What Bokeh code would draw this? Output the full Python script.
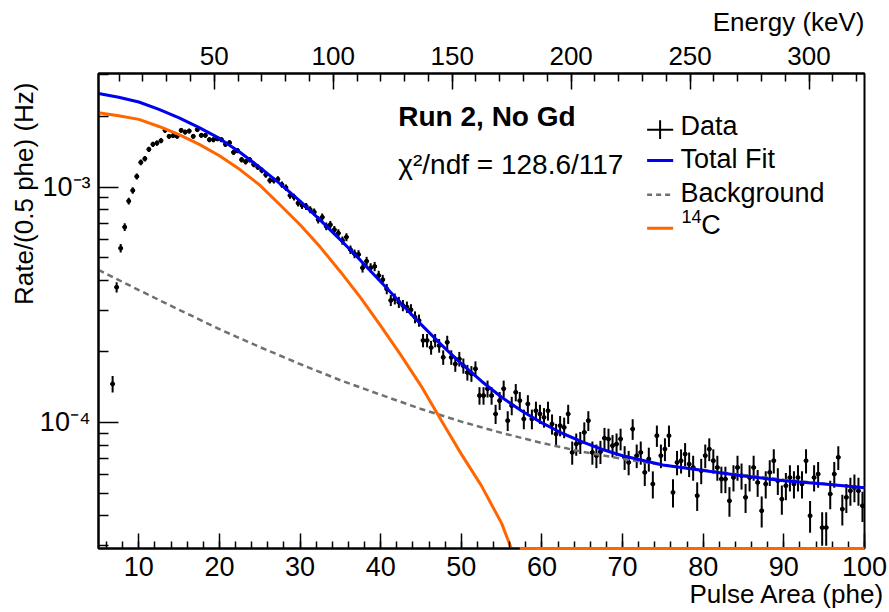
import math
from bokeh.plotting import figure
from bokeh.models import (Range1d, LinearAxis, SingleIntervalTicker, FixedTicker,
                          CustomJSTickFormatter, Label, Title, ColumnDataSource)
from bokeh.embed import file_html
from bokeh.resources import INLINE

FONT = "Liberation Sans"

# ---------------- data ----------------
first_bin_center = 6.75   # phe
bin_width = 0.5           # phe
# measured rate per 0.5 phe bin, in units of 1e-4 Hz
rate_1e4_hz = [
    1.457, 3.754, 5.50, 6.76, 8.72, 9.68, 11.10, 12.74, 13.21, 14.47,
    15.20, 15.39, 15.76, 17.43, 16.44, 16.55, 16.44, 17.43, 17.14, 17.31,
    16.44, 17.55, 16.60, 16.60, 15.91, 15.91, 16.07, 15.91, 15.20, 15.45,
    14.05, 14.29, 13.08, 12.83, 13.08, 12.49, 12.16, 11.78, 11.29, 10.68,
    10.68, 10.81, 10.24, 9.94, 9.22, 9.07, 8.55, 8.36, 8.28, 8.02,
    7.83, 7.27, 7.45, 6.81, 6.92, 6.59, 6.37, 5.93, 6.13, 5.42,
    5.21, 5.17, 4.54, 4.84, 4.54, 4.60, 4.21, 4.04, 3.69, 3.30,
    3.35, 3.24, 3.14, 3.09, 3.01, 2.80, 2.71, 2.23, 2.23, 2.08,
    2.23, 2.12, 1.89, 2.19, 1.89, 1.77, 1.86, 1.74, 1.63, 1.61,
    1.69, 1.30, 1.30, 1.39, 1.30, 1.086, 1.237, 1.39, 1.017, 1.178,
    1.342, 1.237, 1.034, 1.198, 1.034, 1.121, 1.086, 1.050, 1.121, 0.984,
    0.893, 0.968, 0.952, 1.086, 0.745, 0.809, 0.822, 0.907, 1.017, 0.745,
    0.722, 0.750, 0.857, 0.850, 0.796, 0.809, 0.850, 0.710, 0.676, 0.937,
    0.722, 0.745, 0.613, 0.699, 0.547, 0.878, 0.722, 0.770, 0.878, 0.504,
    0.676, 0.687, 0.733, 0.665, 0.643, 0.488, 0.623, 0.722, 0.770, 0.687,
    0.643, 0.574, 0.574, 0.464, 0.583, 0.643, 0.593, 0.480, 0.583, 0.643,
    0.555, 0.421, 0.547, 0.613, 0.687, 0.565, 0.472, 0.538, 0.583, 0.547,
    0.583, 0.547, 0.687, 0.401, 0.583, 0.603, 0.357, 0.357, 0.496, 0.603,
    0.710, 0.428, 0.480, 0.512, 0.529, 0.512, 0.442,
]
livetime_s = 1.05e6   # sets the Poisson error bars

# fitted components (Hz)
bg_phe = [5, 10, 15, 20, 25, 30, 35, 40, 45, 50, 55, 60, 65, 70, 75, 80, 85, 90, 95, 100]
bg_rate = [4.45e-4, 3.65e-4, 3.01e-4, 2.49e-4, 2.09e-4, 1.77e-4, 1.51e-4, 1.31e-4,
           1.14e-4, 1.007e-4, 9.02e-5, 8.17e-5, 7.50e-5, 7.00e-5, 6.59e-5, 6.27e-5,
           5.97e-5, 5.71e-5, 5.48e-5, 5.26e-5]

c14_phe = [5, 7.5, 10, 12.5, 15, 17.5, 20, 22.5, 25, 27.5, 30, 32.5, 35, 37.5, 40,
           42.5, 45, 47.5, 50, 52.5, 55, 56.25, 56.75]
c14_rate = [2.07e-3, 2.01e-3, 1.94e-3, 1.81e-3, 1.67e-3, 1.52e-3, 1.36e-3, 1.19e-3,
            1.02e-3, 8.41e-4, 6.92e-4, 5.56e-4, 4.37e-4, 3.39e-4, 2.57e-4, 1.93e-4,
            1.43e-4, 1.02e-4, 7.33e-5, 5.37e-5, 3.72e-5, 2.88e-5, 1.5e-5]
c14_zero_phe = [57.25, 100.0]   # spectrum is zero past the endpoint

fit_phe = [5, 7.5, 10, 12.5, 15, 17.5, 20, 22.5, 25, 27.5, 30, 32.5, 35, 37.5, 40,
           42.5, 45, 47.5, 50, 52.5, 55, 57.5, 60, 62.5, 65, 67.5, 70, 75, 80, 85,
           90, 95, 100]
fit_rate = [2.50e-3, 2.41e-3, 2.30e-3, 2.14e-3, 1.97e-3, 1.79e-3, 1.61e-3, 1.41e-3,
            1.213e-3, 1.035e-3, 8.71e-4, 7.24e-4, 5.97e-4, 4.88e-4, 3.96e-4, 3.21e-4,
            2.61e-4, 2.14e-4, 1.778e-4, 1.496e-4, 1.279e-4, 1.117e-4, 9.95e-5, 8.99e-5,
            8.26e-5, 7.67e-5, 7.21e-5, 6.59e-5, 6.25e-5, 5.92e-5, 5.65e-5, 5.47e-5,
            5.27e-5]

# energy scale of the top axis: keV = kev_per_phe * phe + kev_offset
kev_per_phe = 3.389
kev_offset = -15.6

x_lo, x_hi = 5.0, 100.0
y_lo, y_hi = 2.91e-5, 3.04e-3

y_major = [1e-4, 1e-3]
y_minor = [m * 10.0 ** k for k in (-5, -4, -3) for m in range(2, 10)]

# ---------------- derived ----------------
phe = [first_bin_center + bin_width * i for i in range(len(rate_1e4_hz))]
rate = [r * 1e-4 for r in rate_1e4_hz]
err = [math.sqrt(r / livetime_s) for r in rate]
src = ColumnDataSource(dict(
    x=phe, y=rate,
    ylo=[r - e for r, e in zip(rate, err)], yhi=[r + e for r, e in zip(rate, err)],
    xlo=[x - bin_width / 2 for x in phe], xhi=[x + bin_width / 2 for x in phe],
))

BLUE = "#0000f0"
ORANGE = "#ff6600"
GREY = "#707070"
FS = "27px"

p = figure(width=889, height=612, x_range=Range1d(x_lo, x_hi), y_range=Range1d(y_lo, y_hi),
           y_axis_type="log", output_backend="svg", toolbar_location=None, title=None,
           min_border_left=98, min_border_right=25, min_border_top=73, min_border_bottom=64)
p.grid.visible = False
p.outline_line_color = "black"
p.outline_line_width = 2
p.background_fill_color = "white"
p.border_fill_color = "white"


def style_axis(ax, tick_major, tick_minor, standoff, font_size):
    ax.major_tick_in = tick_major
    ax.major_tick_out = 0
    ax.minor_tick_in = tick_minor
    ax.minor_tick_out = 0
    ax.major_tick_line_width = 1.5
    ax.minor_tick_line_width = 1.5
    ax.major_tick_line_color = "black"
    ax.minor_tick_line_color = "black"
    ax.axis_line_width = 2
    ax.axis_line_color = "black"
    ax.major_label_text_font = FONT
    ax.major_label_text_font_size = font_size
    ax.major_label_text_color = "black"
    ax.major_label_standoff = standoff


def axis_title(txt, side, offset, standoff):
    p.add_layout(Title(text=txt, align="right", offset=offset, standoff=standoff,
                       vertical_align="top", text_font=FONT, text_font_size="26px",
                       text_font_style="normal", text_color="black"), side)


xa = p.xaxis[0]
xa.ticker = SingleIntervalTicker(interval=10, num_minor_ticks=5)
style_axis(xa, 15, 7, 8, FS)

ya = p.yaxis[0]
ya.ticker = FixedTicker(ticks=y_major, minor_ticks=y_minor)
style_axis(ya, 20, 10, 8, FS)
ya.formatter = CustomJSTickFormatter(code="""
const sup = {"-": "\u207b", "0": "\u2070", "1": "\u00b9", "2": "\u00b2", "3": "\u00b3",
             "4": "\u2074", "5": "\u2075", "6": "\u2076", "7": "\u2077", "8": "\u2078", "9": "\u2079"};
const e = Math.round(Math.log10(tick));
return "10" + String(e).split("").map(c => sup[c]).join("");
""")

p.extra_x_ranges = {"kev": Range1d(kev_per_phe * x_lo + kev_offset, kev_per_phe * x_hi + kev_offset)}
top = LinearAxis(x_range_name="kev", ticker=SingleIntervalTicker(interval=50, num_minor_ticks=5))
style_axis(top, 16, 8, 9, "26px")
p.add_layout(top, "above")

axis_title("Pulse Area (phe)", "below", -20, 0)
axis_title("Rate/(0.5 phe) (Hz)", "left", 9, -8)
axis_title("Energy (keV)", "above", 0, 10)


def text(x, y, s, size=FS, align="left", style="normal"):
    p.add_layout(Label(x=x, y=y, text=s, text_font=FONT, text_font_size=size,
                       text_font_style=style, text_color="black", text_align=align,
                       text_baseline="middle"))


# ---------------- data points ----------------
p.segment(x0="x", y0="ylo", x1="x", y1="yhi", source=src, line_color="black", line_width=2)
p.segment(x0="xlo", y0="y", x1="xhi", y1="y", source=src, line_color="black", line_width=2)
p.scatter("x", "y", source=src, size=4, color="black")

# ---------------- fit curves ----------------
p.line(bg_phe, bg_rate, line_color=GREY, line_width=2.5, line_dash="6 4")
p.line(c14_phe, c14_rate, line_color=ORANGE, line_width=3)
p.line(c14_zero_phe, [y_lo] * len(c14_zero_phe), line_color=ORANGE, line_width=3, level="overlay")
p.line(fit_phe, fit_rate, line_color=BLUE, line_width=3)

# ---------------- texts ----------------
text(42.18, 1.986e-3, "Run 2, No Gd", size="28px", style="bold")
text(42.18, 1.253e-3, "\u03c7\u00b2/ndf = 128.6/117", size="28px")

# ---------------- legend ----------------
lx0, lx1, lxc = 73.04, 76.27, 74.65
p.segment(x0=[lx0], y0=[1.755e-3], x1=[lx1], y1=[1.755e-3], line_color="black", line_width=2)
p.segment(x0=[lxc], y0=[1.755e-3 / 10 ** 0.04], x1=[lxc], y1=[1.755e-3 * 10 ** 0.04],
          line_color="black", line_width=2)
p.line([lx0, lx1], [1.299e-3, 1.299e-3], line_color=BLUE, line_width=3)
p.line([lx0, lx1], [9.28e-4, 9.28e-4], line_color=GREY, line_width=2.5, line_dash="5 4")
p.line([lx0, lx1], [6.69e-4, 6.69e-4], line_color=ORANGE, line_width=3)

text(77.17, 1.816e-3, "Data")
text(77.17, 1.321e-3, "Total Fit")
text(77.17, 9.45e-4, "Background")
text(77.29, 7.50e-4, "14", size="18px")
text(79.75, 6.87e-4, "C")

open("out.html", "w").write(file_html(p, INLINE))
